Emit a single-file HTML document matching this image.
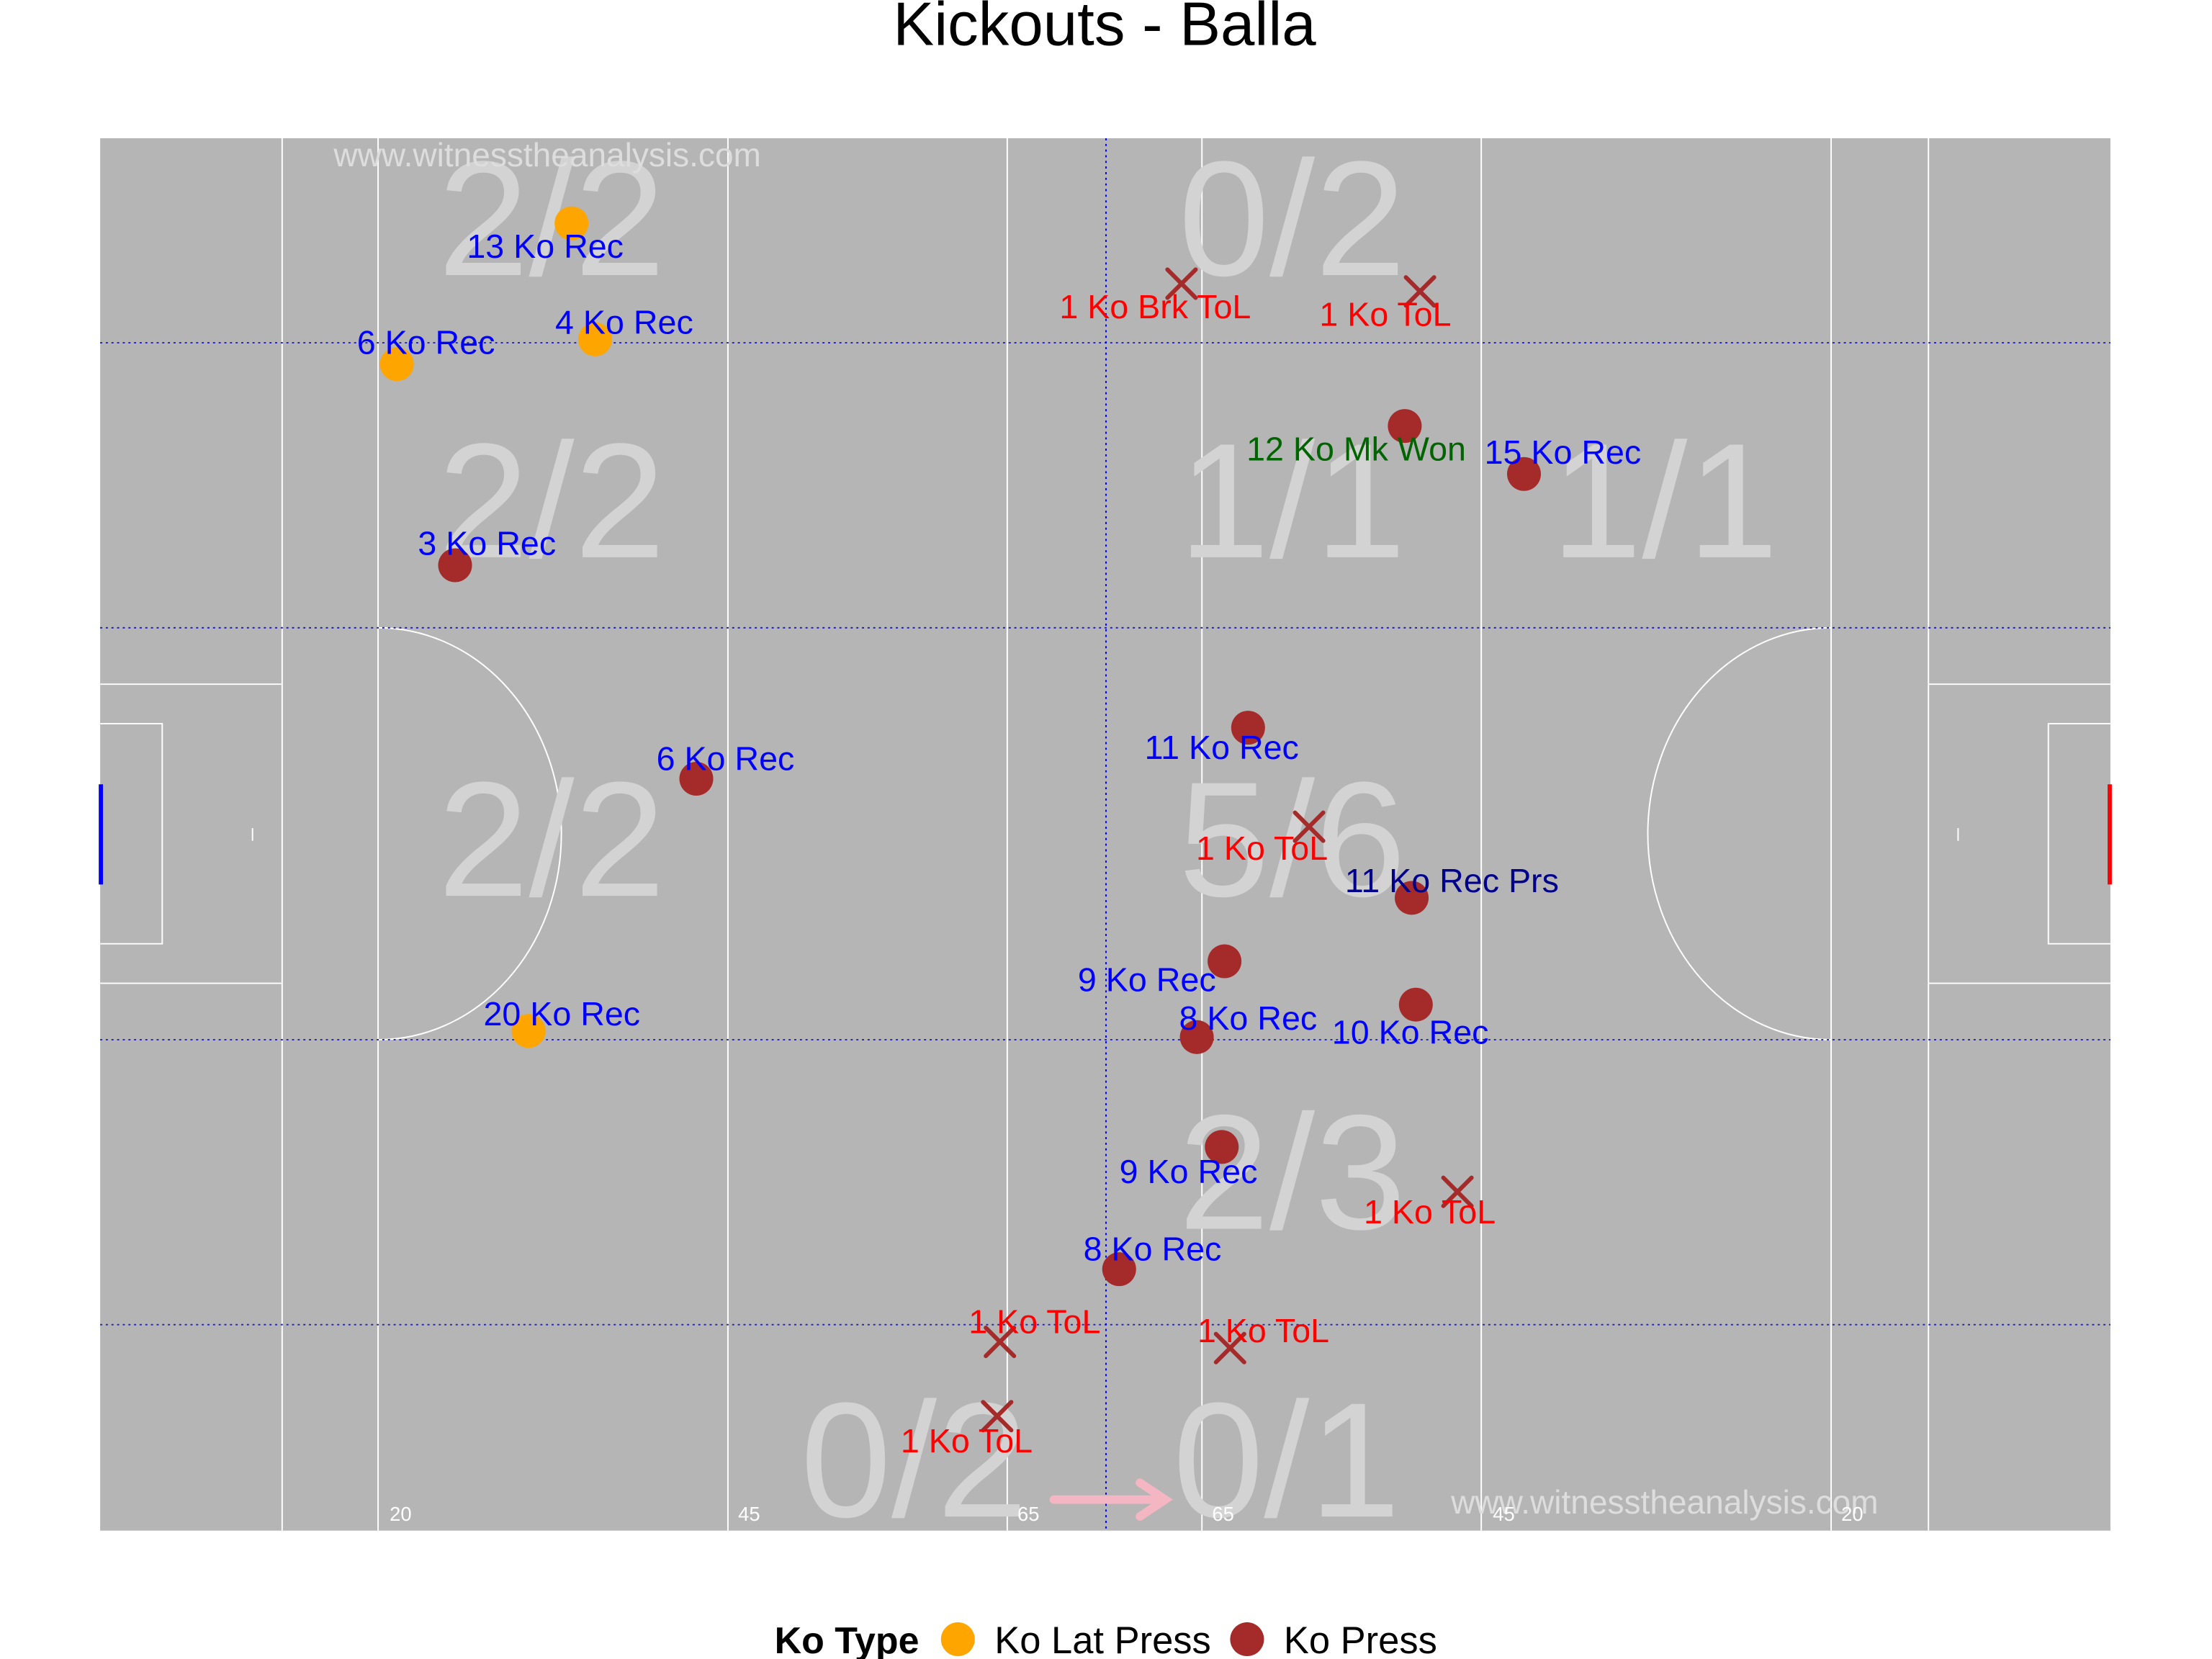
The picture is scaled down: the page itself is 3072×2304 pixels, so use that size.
<!DOCTYPE html>
<html><head><meta charset="utf-8"><style>
html,body{margin:0;padding:0;background:#fff;}
svg{display:block;}
text{font-family:"Liberation Sans",sans-serif;}
</style></head><body>
<svg id="chart" width="3072" height="2304" viewBox="0 0 1568 1176" xmlns="http://www.w3.org/2000/svg">
<text x="783" y="32" font-size="43.5" text-anchor="middle" fill="#000">Kickouts - Balla</text>
<g id="pitch">
<rect x="71" y="98" width="1425" height="987" fill="#b5b5b5"/>
<g stroke="#fff" stroke-width="1" fill="none">
<line x1="200" y1="98" x2="200" y2="1085"/>
<line x1="268" y1="98" x2="268" y2="1085"/>
<line x1="516" y1="98" x2="516" y2="1085"/>
<line x1="714" y1="98" x2="714" y2="1085"/>
<line x1="852" y1="98" x2="852" y2="1085"/>
<line x1="1050" y1="98" x2="1050" y2="1085"/>
<line x1="1298" y1="98" x2="1298" y2="1085"/>
<line x1="1367" y1="98" x2="1367" y2="1085"/>
<path d="M268,445 A130,146 0 0 1 268,737"/>
<path d="M1298,445 A130,146 0 0 0 1298,737"/>
<path d="M71,485 H200 M71,697 H200"/>
<path d="M71,513 H115 V669 H71"/>
<path d="M1496,485 H1367 M1496,697 H1367"/>
<path d="M1496,513 H1452 V669 H1496"/>
<line x1="179" y1="587" x2="179" y2="596"/>
<line x1="1388" y1="587" x2="1388" y2="596"/>
</g>
<g stroke="#2020c0" stroke-width="1" stroke-dasharray="1.5,2.5">
<line x1="71" y1="243" x2="1496" y2="243"/>
<line x1="71" y1="445" x2="1496" y2="445"/>
<line x1="71" y1="737" x2="1496" y2="737"/>
<line x1="71" y1="939" x2="1496" y2="939"/>
<line x1="784" y1="98" x2="784" y2="1085" stroke="#0000ff"/>
</g>
<line x1="71.5" y1="556" x2="71.5" y2="627" stroke="#0000ff" stroke-width="3"/>
<line x1="1495.5" y1="556" x2="1495.5" y2="627" stroke="#ff0000" stroke-width="3"/>
<g fill="#d3d3d3" font-size="116" text-anchor="middle">
<text x="391" y="195">2/2</text>
<text x="916" y="195">0/2</text>
<text x="391" y="395">2/2</text>
<text x="916" y="395">1/1</text>
<text x="1180" y="395">1/1</text>
<text x="391" y="635">2/2</text>
<text x="916" y="635">5/6</text>
<text x="916" y="871">2/3</text>
<text x="648" y="1075">0/2</text>
<text x="912" y="1075">0/1</text>
</g>
<g fill="#dddddd" font-size="23.5" text-anchor="middle">
<text x="388" y="118">www.witnesstheanalysis.com</text>
<text x="1180" y="1073">www.witnesstheanalysis.com</text>
</g>
<g fill="#fff" font-size="14" text-anchor="middle">
<text x="284" y="1078">20</text>
<text x="531" y="1078">45</text>
<text x="729" y="1078">65</text>
<text x="867" y="1078">65</text>
<text x="1066" y="1078">45</text>
<text x="1313" y="1078">20</text>
</g>
<g stroke="#f4b6c2" stroke-width="6" fill="none" stroke-linecap="round">
<line x1="747" y1="1063" x2="824" y2="1063"/>
<path d="M808,1051 L826,1063 L808,1075"/>
</g>
</g>
<g id="marks"></g>
<g id="legend">
<text x="549" y="1172" font-size="26.5" font-weight="bold">Ko Type</text>
<circle cx="679" cy="1162" r="12" fill="#FFA500"/>
<text x="705" y="1172" font-size="26.8">Ko Lat Press</text>
<circle cx="884" cy="1162" r="12" fill="#A52A2A"/>
<text x="910" y="1172" font-size="26.8">Ko Press</text>
</g>
</svg>
<script>
// pitch coordinates in metres: x along 145m length, y across 90m width
const kickoutX = [34.0, 21.4, 35.7, 30.9, 25.6, 43.0, 94.1, 102.7, 82.8, 94.6, 81.1, 79.1, 94.9, 80.9, 73.5, 78.0, 95.2, 87.2, 97.9, 64.9, 81.5, 64.7];
const kickoutY = [5.5, 14.6, 13.0, 57.7, 27.6, 41.4, 18.6, 21.7, 38.1, 49.1, 53.2, 58.1, 56.0, 65.2, 73.1, 9.4, 9.9, 44.5, 68.1, 77.8, 78.2, 82.6];
const kickoutType = ["lat","lat","lat","lat","press","press","press","press","press","press","press","press","press","press","press","tol","tol","tol","tol","tol","tol","tol"];
const labelText = ["13 Ko Rec","6 Ko Rec","4 Ko Rec","20 Ko Rec","3 Ko Rec","6 Ko Rec","12 Ko Mk Won","15 Ko Rec","11 Ko Rec","11 Ko Rec Prs","9 Ko Rec","8 Ko Rec","10 Ko Rec","9 Ko Rec","8 Ko Rec","1 Ko Brk ToL","1 Ko ToL","1 Ko ToL","1 Ko ToL","1 Ko ToL","1 Ko ToL","1 Ko ToL"];
const labelX = [32.1, 23.5, 37.8, 33.3, 27.9, 45.1, 90.6, 105.5, 80.9, 97.5, 75.5, 82.8, 94.5, 78.5, 75.9, 76.1, 92.7, 83.8, 95.9, 67.4, 83.9, 62.5];
const labelY = [7.0, 13.2, 11.9, 56.6, 26.2, 40.1, 20.1, 20.3, 39.4, 48.0, 54.4, 56.9, 57.8, 66.8, 71.8, 10.9, 11.4, 45.9, 69.4, 76.5, 77.1, 84.2];
const labelColor = ["#0000ff","#0000ff","#0000ff","#0000ff","#0000ff","#0000ff","#006400","#0000ff","#0000ff","#00008b","#0000ff","#0000ff","#0000ff","#0000ff","#0000ff","#ff0000","#ff0000","#ff0000","#ff0000","#ff0000","#ff0000","#ff0000"];

const X0 = 71, PXM_X = 1425/145, Y0 = 98, PXM_Y = 987/90;
function sx(v){ return X0 + v*PXM_X; }
function sy(v){ return Y0 + v*PXM_Y; }
const NS = "http://www.w3.org/2000/svg";
const marks = document.getElementById('marks');
for (let i = 0; i < kickoutX.length; i++) {
  const cx = sx(kickoutX[i]), cy = sy(kickoutY[i]);
  let m;
  if (kickoutType[i] === 'tol') {
    m = document.createElementNS(NS, 'path');
    m.setAttribute('d', `M${cx-10},${cy-10}L${cx+10},${cy+10}M${cx+10},${cy-10}L${cx-10},${cy+10}`);
    m.setAttribute('stroke', '#A52A2A');
    m.setAttribute('stroke-width', '3');
    m.setAttribute('stroke-linecap', 'round');
    
    
  } else {
    m = document.createElementNS(NS, 'circle');
    m.setAttribute('cx', cx);
    m.setAttribute('cy', cy);
    m.setAttribute('r', 12);
    m.setAttribute('fill', kickoutType[i] === 'lat' ? '#FFA500' : '#A52A2A');
    
    
  }
  marks.appendChild(m);
}
for (let i = 0; i < labelText.length; i++) {
  const t = document.createElementNS(NS, 'text');
  t.setAttribute('x', sx(labelX[i]));
  t.setAttribute('y', sy(labelY[i]) + 8);
  t.setAttribute('text-anchor', 'middle');
  t.setAttribute('font-size', '23.8');
  t.setAttribute('fill', labelColor[i]);
  t.textContent = labelText[i];
  
  
  marks.appendChild(t);
}
</script>
</body></html>
